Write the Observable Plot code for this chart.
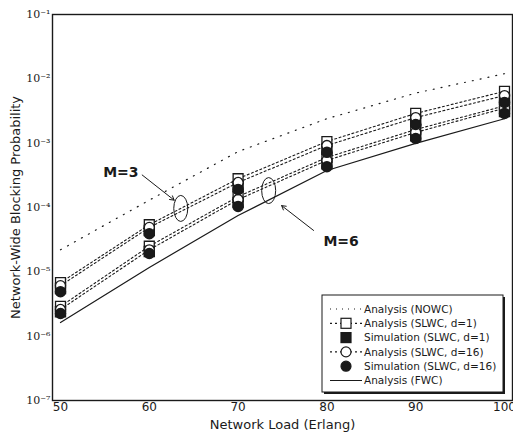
<!DOCTYPE html>
<html><head><meta charset="utf-8">
<script src="https://cdn.jsdelivr.net/npm/d3@7"></script>
<script src="https://cdn.jsdelivr.net/npm/@observablehq/plot@0.6"></script>
<style>body{margin:0;background:#fff} svg{display:block}</style>
</head><body><div id="chart"></div>
<script>
// ---- data ----
const load = [50, 60, 70, 80, 90, 100];
const nowc = [2.2e-5, 1.3e-4, 7.4e-4, 2.4e-3, 6.0e-3, 1.2e-2];
const fwc = [1.63e-6, 1.17e-5, 7.5e-5, 3.76e-4, 9.9e-4, 2.4e-3];
const m3AnaD1 = [6.8e-6, 5.4e-5, 2.8e-4, 1.06e-3, 2.9e-3, 6.4e-3];
const m3AnaD16 = [6.1e-6, 4.9e-5, 2.45e-4, 9.2e-4, 2.5e-3, 5.5e-3];
const m3SimD1 = [5.5e-6, 4.4e-5, 2.1e-4, 8.0e-4, 2.2e-3, 4.8e-3];
const m3SimD16 = [4.9e-6, 3.9e-5, 1.9e-4, 7.2e-4, 1.95e-3, 4.3e-3];
const m6AnaD1 = [2.9e-6, 2.5e-5, 1.48e-4, 6.0e-4, 1.63e-3, 3.8e-3];
const m6AnaD16 = [2.6e-6, 2.2e-5, 1.33e-4, 5.4e-4, 1.47e-3, 3.5e-3];
const m6SimD1 = [2.4e-6, 2.07e-5, 1.2e-4, 4.8e-4, 1.3e-3, 3.1e-3];
const m6SimD16 = [2.25e-6, 1.93e-5, 1.04e-4, 4.3e-4, 1.18e-3, 2.9e-3];
const xTicks = [50, 60, 70, 80, 90, 100];
const yExps = [-7, -6, -5, -4, -3, -2, -1];
const xTitle = "Network Load (Erlang)";
const yTitle = "Network-Wide Blocking Probability";
const legendLabels = ["Analysis (NOWC)", "Analysis (SLWC, d=1)", "Simulation (SLWC, d=1)",
  "Analysis (SLWC, d=16)", "Simulation (SLWC, d=16)", "Analysis (FWC)"];
// annotations (data coordinates)
const annText = ["M=3", "M=6"];
const annX = [56.8, 81.6];
const annY = [3.5e-4, 2.96e-5];
const arrX1 = [59.2, 78.5], arrY1 = [3.2e-4, 4.4e-5];
const arrX2 = [62.8, 74.9], arrY2 = [1.3e-4, 1.07e-4];
const ellX = [63.6, 73.5], ellY = [9.5e-5, 1.8e-4];

// ---- tables ----
const rows = (arr, s) => load.map((x, i) => ({x, y: arr[i], s}));
const slwcLines = [...rows(m3AnaD1, "m3d1"), ...rows(m3AnaD16, "m3d16"), ...rows(m6AnaD1, "m6d1"), ...rows(m6AnaD16, "m6d16")];
const anaD1 = [...rows(m3AnaD1, "m3"), ...rows(m6AnaD1, "m6")];
const anaD16 = [...rows(m3AnaD16, "m3"), ...rows(m6AnaD16, "m6")];
const simD1 = [...rows(m3SimD1, "m3"), ...rows(m6SimD1, "m6")];
const simD16 = [...rows(m3SimD16, "m3"), ...rows(m6SimD16, "m6")];
const ann = annText.map((t, i) => ({t, x: annX[i], y: annY[i]}));
const arrows = arrX1.map((_, i) => ({x1: arrX1[i], y1: arrY1[i], x2: arrX2[i], y2: arrY2[i]}));

const sup = {"-": "\u207B", "0": "\u2070", "1": "\u00B9", "2": "\u00B2", "3": "\u00B3", "4": "\u2074", "5": "\u2075", "6": "\u2076", "7": "\u2077", "8": "\u2078", "9": "\u2079"};
const fmtY = d => "10" + String(Math.round(Math.log10(d))).split("").map(c => sup[c]).join("");
const ink = "#1a1a1a";

const plot = Plot.plot({
  width: 513, height: 435,
  marginLeft: 52, marginRight: 1, marginTop: 14, marginBottom: 35,
  style: {fontFamily: "DejaVu Sans", background: "#fff"},
  x: {domain: [49.1, 100.9]},
  y: {type: "log", domain: [1e-7, 1e-1]},
  marks: [
    Plot.axisX({ticks: xTicks, tickSize: 0, tickPadding: 2, fontSize: 12, label: null, fill: ink}),
    Plot.axisY({ticks: yExps.map(e => Math.pow(10, e)), tickFormat: fmtY, tickSize: 0, tickPadding: 2, fontSize: 11, fontFamily: "DejaVu Serif", label: null, fill: ink}),
    Plot.text([xTitle], {frameAnchor: "bottom", dy: 28, fontSize: 13, fill: ink}),
    Plot.text([yTitle], {frameAnchor: "left", textAnchor: "middle", dx: -37, rotate: -90, fontSize: 13, fill: ink}),
    Plot.line(rows(nowc, "nowc"), {x: "x", y: "y", stroke: ink, strokeWidth: 1.2, strokeDasharray: "1,7"}),
    Plot.line(slwcLines, {x: "x", y: "y", z: "s", stroke: ink, strokeWidth: 1.1, strokeDasharray: "2,2.5"}),
    Plot.line(rows(fwc, "fwc"), {x: "x", y: "y", stroke: ink, strokeWidth: 1.2}),
    Plot.dot(anaD1, {x: "x", y: "y", symbol: "square", r: 5.6, fill: "#fff", stroke: ink, strokeWidth: 1.3}),
    Plot.dot(simD1, {x: "x", y: "y", symbol: "square", r: 5.6, fill: ink, stroke: ink}),
    Plot.dot(anaD16, {x: "x", y: "y", symbol: "circle", r: 5, fill: "#fff", stroke: ink, strokeWidth: 1.3}),
    Plot.dot(simD16, {x: "x", y: "y", symbol: "circle", r: 5, fill: ink, stroke: ink}),
    Plot.text(ann, {x: "x", y: "y", text: "t", fontSize: 14, fontWeight: "bold", fill: ink}),
    Plot.arrow(arrows, {x1: "x1", y1: "y1", x2: "x2", y2: "y2", stroke: ink, strokeWidth: 1, headLength: 7, bend: 0}),
    Plot.frame({stroke: ink, strokeWidth: 1.4})
  ]
});
document.getElementById("chart").append(plot);

// ellipses around line groups, placed with the plot's own scales
const sx = plot.scale("x"), sy = plot.scale("y");
const svg = d3.select(plot);
ellX.forEach((x, i) => {
  svg.append("ellipse").attr("cx", sx.apply(x)).attr("cy", sy.apply(ellY[i]))
    .attr("rx", 7).attr("ry", 13).attr("fill", "none").attr("stroke", ink).attr("stroke-width", 1);
});

// legend box (inside the plot frame, bottom right)
const lg = svg.append("g").attr("transform", "translate(322,295)");
lg.append("rect").attr("x", 2).attr("y", 2).attr("width", 181).attr("height", 97).attr("fill", ink);
lg.append("rect").attr("width", 181).attr("height", 97).attr("fill", "#fff").attr("stroke", ink).attr("stroke-width", 1);
const kinds = ["nowc", "sq", "fsq", "ci", "fci", "fwc"];
kinds.forEach((k, i) => {
  const y = 14 + i * 14.3;
  const g = lg.append("g").attr("transform", `translate(0,${y})`);
  if (k === "nowc" || k === "sq" || k === "ci" || k === "fwc") {
    g.append("line").attr("x1", 8).attr("x2", 40).attr("stroke", ink)
      .attr("stroke-width", k === "fwc" ? 1 : 1.2)
      .attr("stroke-dasharray", k === "nowc" ? "1,5" : k === "fwc" ? null : "2,3");
  }
  if (k === "sq" || k === "fsq") g.append("rect").attr("x", 19).attr("y", -5).attr("width", 10).attr("height", 10)
    .attr("fill", k === "sq" ? "#fff" : ink).attr("stroke", ink).attr("stroke-width", 1.2);
  if (k === "ci" || k === "fci") g.append("circle").attr("cx", 24).attr("r", 5)
    .attr("fill", k === "ci" ? "#fff" : ink).attr("stroke", ink).attr("stroke-width", 1.2);
  g.append("text").attr("x", 42).attr("dy", "0.35em").attr("text-anchor", "start").attr("font-size", 10.5)
    .attr("font-family", "DejaVu Sans").attr("fill", ink).text(legendLabels[i]);
});
</script>
</body></html>
